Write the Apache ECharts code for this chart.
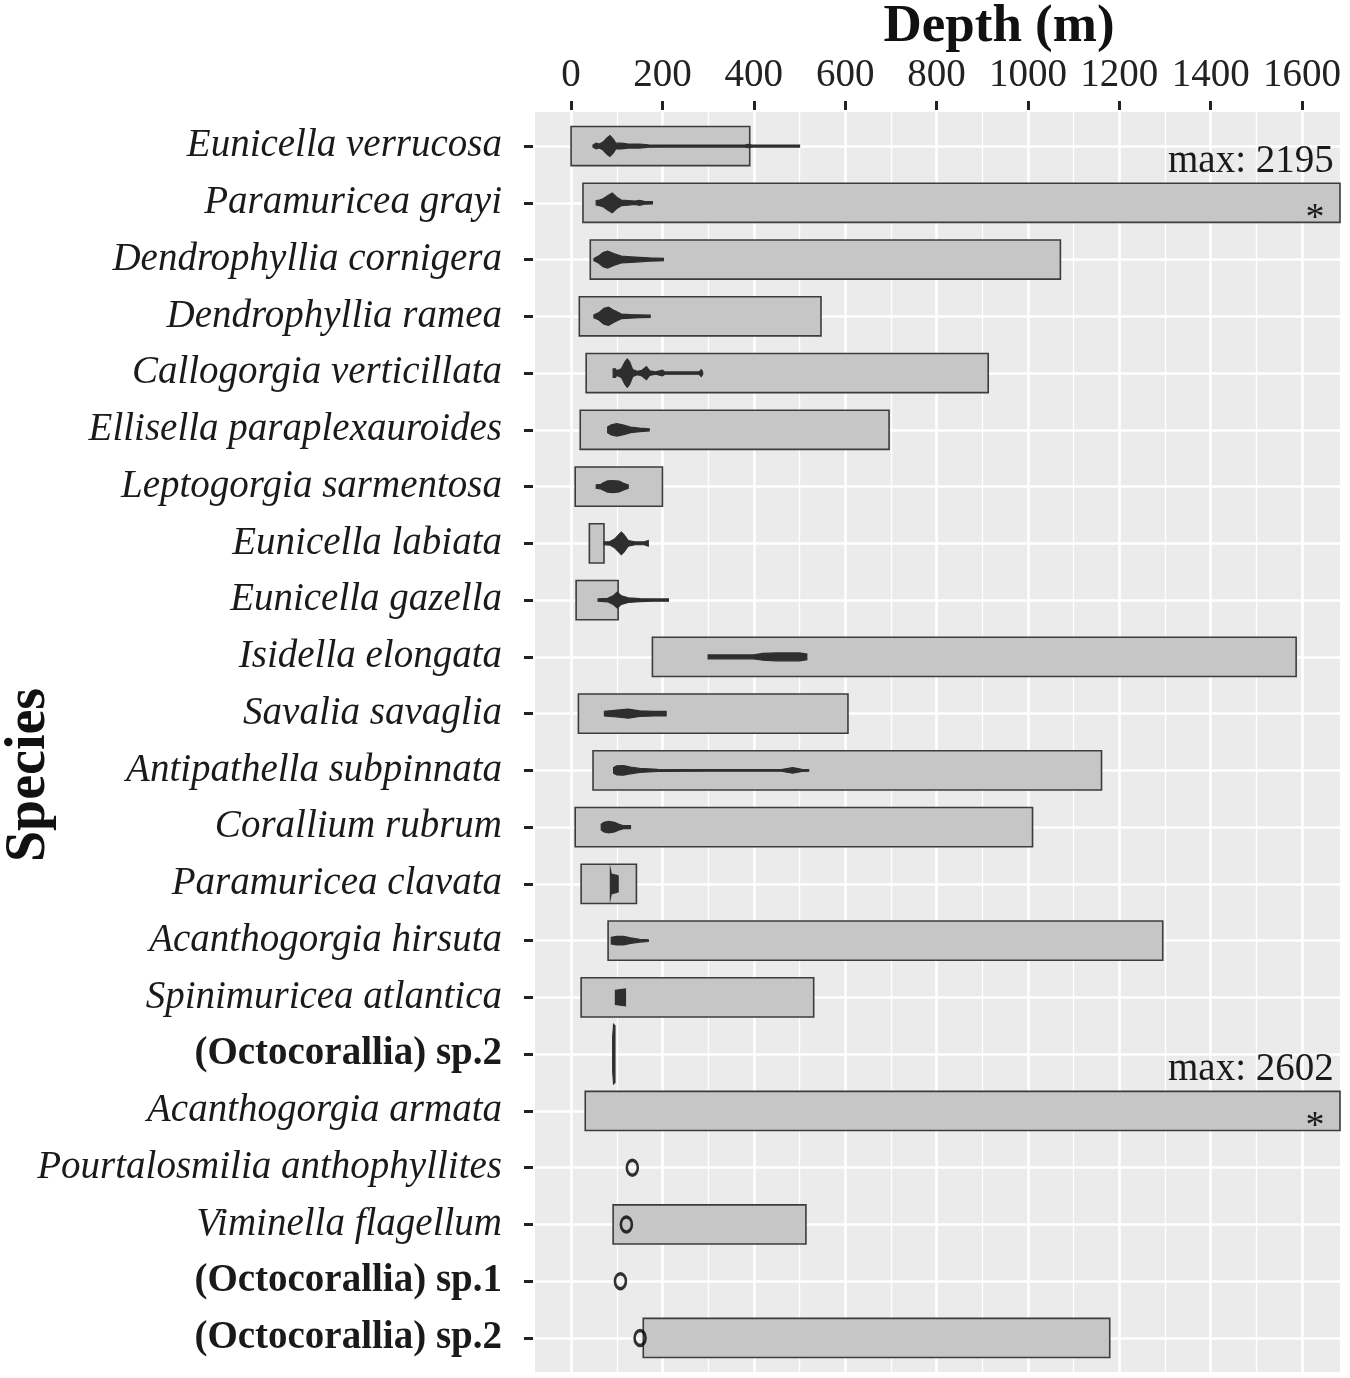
<!DOCTYPE html>
<html>
<head>
<meta charset="utf-8">
<script src="https://cdn.jsdelivr.net/npm/echarts@6/dist/echarts.min.js"></script>
<style>
  html, body { margin: 0; padding: 0; background: #fff; }
  #main { width: 1350px; height: 1378px; }
</style>
</head>
<body>
<div id="main"></div>
<script>
var chartDom = document.getElementById('main');
var myChart = echarts.init(chartDom);
var option;

var FONT = '"Liberation Serif", "Times New Roman", serif';

// species, top to bottom
var species = ['Eunicella verrucosa', 'Paramuricea grayi', 'Dendrophyllia cornigera', 'Dendrophyllia ramea',
    'Callogorgia verticillata', 'Ellisella paraplexauroides', 'Leptogorgia sarmentosa', 'Eunicella labiata',
    'Eunicella gazella', 'Isidella elongata', 'Savalia savaglia', 'Antipathella subpinnata', 'Corallium rubrum',
    'Paramuricea clavata', 'Acanthogorgia hirsuta', 'Spinimuricea atlantica', '(Octocorallia) sp.2',
    'Acanthogorgia armata', 'Pourtalosmilia anthophyllites', 'Viminella flagellum', '(Octocorallia) sp.1',
    '(Octocorallia) sp.2'];

// known depth range (gray bars)
var rangeMin = [0, 26, 42, 18, 33, 20, 9, 40, 11, 178, 16, 48, 9, 22, 81, 22, null, 31, null, 92, null, 158];
var rangeMax = [391, 2195, 1071, 547, 913, 696, 200, 72, 103, 1587, 606, 1161, 1010, 143, 1295, 531, null, 2602, null, 514, null, 1179];

// observed depths: violin profiles [depth, relative half width]
var violins = [
    [[48, 0.04], [55, 0.1], [62, 0.07], [70, 0.14], [78, 0.28], [85, 0.37], [92, 0.25], [98, 0.1], [110, 0.1], [125, 0.07], [150, 0.07], [170, 0.04], [200, 0.035], [380, 0.035], [388, 0.06], [396, 0.035], [500, 0.035]],
    [[55, 0.08], [62, 0.1], [70, 0.14], [80, 0.25], [90, 0.35], [100, 0.2], [110, 0.1], [125, 0.08], [140, 0.06], [150, 0.09], [160, 0.05], [178, 0.04]],
    [[50, 0.04], [60, 0.12], [70, 0.25], [80, 0.3], [95, 0.2], [110, 0.12], [130, 0.1], [150, 0.08], [170, 0.06], [190, 0.05], [202, 0.04]],
    [[50, 0.05], [60, 0.12], [72, 0.28], [82, 0.32], [95, 0.2], [110, 0.08], [130, 0.06], [150, 0.05], [173, 0.04]],
    [[92, 0.15], [97, 0.15], [100, 0.08], [110, 0.15], [118, 0.4], [123, 0.5], [128, 0.4], [135, 0.12], [145, 0.06], [155, 0.1], [165, 0.23], [172, 0.08], [185, 0.04], [200, 0.1], [205, 0.04], [280, 0.04], [285, 0.12], [288, 0.04]],
    [[80, 0.1], [88, 0.18], [100, 0.22], [115, 0.17], [130, 0.1], [150, 0.06], [171, 0.04]],
    [[55, 0.06], [65, 0.08], [72, 0.14], [80, 0.2], [92, 0.21], [105, 0.19], [115, 0.12], [125, 0.06]],
    [[72, 0.05], [85, 0.06], [95, 0.15], [104, 0.3], [110, 0.4], [116, 0.3], [125, 0.1], [140, 0.05], [160, 0.05], [169, 0.1]],
    [[59, 0.04], [80, 0.06], [92, 0.15], [101, 0.28], [110, 0.15], [125, 0.08], [150, 0.05], [180, 0.04], [213, 0.04]],
    [[300, 0.07], [400, 0.07], [420, 0.12], [450, 0.14], [500, 0.14], [516, 0.1]],
    [[73, 0.08], [100, 0.12], [125, 0.16], [150, 0.1], [180, 0.08], [208, 0.08]],
    [[93, 0.1], [100, 0.16], [115, 0.17], [130, 0.12], [150, 0.07], [190, 0.04], [300, 0.03], [460, 0.03], [485, 0.1], [505, 0.04], [520, 0.03]],
    [[66, 0.1], [72, 0.17], [82, 0.2], [95, 0.17], [105, 0.1], [115, 0.05], [130, 0.05]],
    [[86, 0.5], [88, 0.35], [100, 0.3], [103, 0.28]],
    [[88, 0.12], [100, 0.15], [115, 0.15], [130, 0.1], [150, 0.05], [169, 0.03]],
    [[97, 0.25], [119, 0.3]],
    [[91, 0.6], [93, 1.05], [96, 1.0]],
    null, null, null, null, null
];

// single records (open circles)
var singleRow = [18, 19, 20, 21];
var singleDepth = [134, 121, 108, 151];

// ranges cut at the axis limit
var cutRow = [1, 17];
var cutMax = [2195, 2602];

var majorTicks = [0, 200, 400, 600, 800, 1000, 1200, 1400, 1600];
var minorTicks = [100, 300, 500, 700, 900, 1100, 1300, 1500];
var rowTicks = species.map(function (s, i) { return i; });

var barData = [];
for (var i = 0; i < species.length; i++) {
    if (rangeMin[i] != null) barData.push([i, rangeMin[i], rangeMax[i]]);
}
var violinData = [];
for (var i = 0; i < species.length; i++) {
    if (violins[i]) violinData.push([i]);
}
var gridLines = [];
majorTicks.forEach(function (v) { gridLines.push({xAxis: v, lineStyle: {width: 2.6}}); });
minorTicks.forEach(function (v) { gridLines.push({xAxis: v, lineStyle: {width: 1.3}}); });
rowTicks.forEach(function (v) { gridLines.push({yAxis: v, lineStyle: {width: 2.6}}); });

option = {
    animation: false,
    backgroundColor: '#fff',
    grid: {
        left: 535, right: 10, top: 112, bottom: 6,
        show: true, backgroundColor: '#EBEBEB', borderWidth: 0
    },
    graphic: [
        {
            type: 'text', x: 999, y: 27,
            style: {text: 'Depth (m)', font: 'bold 53px ' + FONT, fill: '#111', align: 'center', verticalAlign: 'middle'}
        },
        {
            type: 'text', x: 30, y: 775, rotation: Math.PI / 2,
            style: {text: 'Species', font: 'bold 56px ' + FONT, fill: '#111', align: 'center', verticalAlign: 'middle'}
        }
    ],
    xAxis: {
        type: 'value',
        position: 'top',
        min: -79,
        max: 1683,
        offset: 2,
        axisLine: {show: false, onZero: false},
        axisTick: {show: true, length: 9, customValues: majorTicks, lineStyle: {color: '#222', width: 3}},
        axisLabel: {
            customValues: majorTicks, margin: 15, fontSize: 39, fontFamily: FONT, color: '#222',
            formatter: function (v) { return String(v); }
        },
        splitLine: {show: false}
    },
    yAxis: {
        type: 'value',
        inverse: true,
        min: -0.6,
        max: species.length - 1 + 0.6,
        offset: 2,
        axisLine: {show: false, onZero: false},
        axisTick: {show: true, length: 9, customValues: rowTicks, lineStyle: {color: '#222', width: 3}},
        axisLabel: {
            customValues: rowTicks,
            margin: 31,
            formatter: function (v) {
                var name = species[Math.round(v)];
                return name.charAt(0) === '(' ? '{b|' + name + '}' : '{i|' + name + '}';
            },
            rich: {
                i: {fontSize: 39, fontStyle: 'italic', fontFamily: FONT, color: '#1a1a1a'},
                b: {fontSize: 39, fontWeight: 'bold', fontFamily: FONT, color: '#1a1a1a'}
            }
        },
        splitLine: {show: false}
    },
    series: [
        {
            // panel grid lines
            type: 'line',
            data: [],
            silent: true,
            markLine: {
                silent: true,
                z: 1,
                symbol: 'none',
                label: {show: false},
                lineStyle: {color: '#FFFFFF', type: 'solid'},
                data: gridLines
            }
        },
        {
            type: 'custom',
            name: 'range',
            z: 2,
            encode: {x: [1, 2], y: 0},
            data: barData,
            renderItem: function (params, api) {
                var idx = api.value(0);
                var p0 = api.coord([api.value(1), idx]);
                var p1 = api.coord([api.value(2), idx]);
                var h = api.size([0, 1])[1] * 0.69;
                var rect = echarts.graphic.clipRectByRect(
                    {x: p0[0], y: p0[1] - h / 2, width: p1[0] - p0[0], height: h},
                    {x: params.coordSys.x, y: params.coordSys.y, width: params.coordSys.width, height: params.coordSys.height}
                );
                return rect && {
                    type: 'rect',
                    shape: rect,
                    style: {fill: '#C6C6C6', stroke: '#3c3c3c', lineWidth: 1.6}
                };
            }
        },
        {
            type: 'custom',
            name: 'violin',
            z: 3,
            encode: {y: 0},
            data: violinData,
            renderItem: function (params, api) {
                var idx = api.value(0);
                var prof = violins[idx];
                var half = api.size([0, 1])[1] / 2;
                var top = [], bot = [];
                prof.forEach(function (p) {
                    var c = api.coord([p[0], idx]);
                    top.push([c[0], c[1] - p[1] * half]);
                    bot.unshift([c[0], c[1] + p[1] * half]);
                });
                return {
                    type: 'polygon',
                    shape: {points: top.concat(bot)},
                    style: {fill: '#2e2e2e', stroke: '#2e2e2e', lineWidth: 1.2}
                };
            }
        },
        {
            type: 'scatter',
            name: 'single',
            z: 4,
            symbol: 'circle',
            symbolSize: [11, 15],
            itemStyle: {color: 'rgba(0,0,0,0)', borderColor: '#000', borderWidth: 3},
            data: singleRow.map(function (r, k) { return [singleDepth[k], r]; })
        },
        {
            type: 'custom',
            name: 'cut',
            z: 5,
            encode: {y: 0},
            data: cutRow.map(function (r, k) { return [r, cutMax[k]]; }),
            renderItem: function (params, api) {
                var idx = api.value(0);
                var c = api.coord([0, idx]);
                var band = api.size([0, 1])[1];
                var edge = params.coordSys.x + params.coordSys.width;
                return {
                    type: 'group',
                    children: [
                        {
                            type: 'text',
                            style: {
                                text: 'max: ' + api.value(1), x: edge - 172, y: c[1] - band * 0.72,
                                font: '39px ' + FONT, fill: '#1a1a1a', align: 'left', verticalAlign: 'middle'
                            }
                        },
                        {
                            type: 'text',
                            style: {
                                text: '*', x: edge - 25, y: c[1] + band * 0.28,
                                font: '38px ' + FONT, fill: '#1a1a1a', align: 'center', verticalAlign: 'middle'
                            }
                        }
                    ]
                };
            }
        }
    ]
};

option && myChart.setOption(option);
</script>
</body>
</html>
